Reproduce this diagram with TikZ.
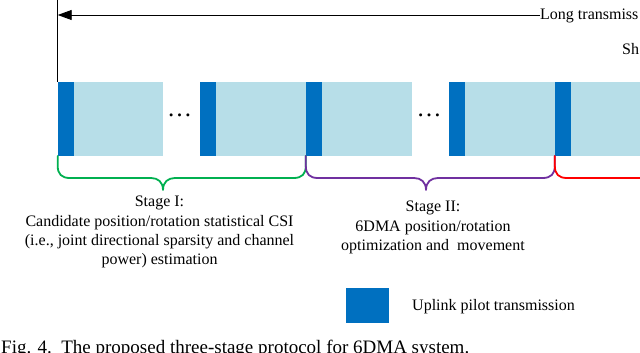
\documentclass[tikz,border=0pt]{standalone}
\usepackage{fontspec}
\setmainfont{Liberation Serif}
\usetikzlibrary{arrows.meta}
\definecolor{pilot}{HTML}{0070C0}
\definecolor{datablk}{HTML}{B7DEE8}
\definecolor{gbrace}{HTML}{00B050}
\definecolor{pbrace}{HTML}{7030A0}
\definecolor{rbrace}{HTML}{FF0000}
\begin{document}
\begin{tikzpicture}[x=1pt,y=-1pt,
  txt/.style={inner sep=0pt, anchor=base, font=\fontsize{16}{19.5}\selectfont},
  blk/.style={draw=none, inner sep=0pt, outer sep=0pt, minimum height=74pt, anchor=north west},
  pilotblk/.style={blk, fill=pilot, minimum width=16.3pt},
  datablock/.style={blk, fill=datablk},
  brace/.style={line width=1.8pt, line cap=round, line join=round},
  dotsnode/.style={inner sep=0pt, anchor=base, font=\fontsize{25}{25}\selectfont}
]
\useasboundingbox (0,0) rectangle (640,353);
\fill[white] (0,0) rectangle (640,353);

% timeline blocks
\node[pilotblk] (d1) at (57.7,82) {};
\node[datablock, minimum width=89pt] (l1) at (74,82) {};
\node[dotsnode] (dots1) at (179.5,116.5) {…};
\node[pilotblk] (d2) at (200,82) {};
\node[datablock, minimum width=89.5pt] (l2) at (216.3,82) {};
\node[pilotblk] (d3) at (305.8,82) {};
\node[datablock, minimum width=90pt] (l3) at (322,82) {};
\node[dotsnode] (dots2) at (429,116.5) {…};
\node[pilotblk] (d4) at (449,82) {};
\node[datablock, minimum width=89.5pt] (l4) at (465.3,82) {};
\node[pilotblk] (d5) at (554.8,82) {};
\node[datablock, minimum width=70pt] (l5) at (571,82) {};

% top marker and arrow
\coordinate (vtop) at (57.7,0);
\draw[line width=1pt] (vtop) -- (d1.north west);
\node[txt, anchor=base west] (longlbl) at (540,19.5) {Long transmiss};
\node[txt, anchor=base west] (shortlbl) at (622,55) {Sh};
\coordinate (ay) at (0,15);
\draw[line width=0.9pt, -{Triangle[length=14pt,width=10pt]}] (longlbl.west |- ay) -- (vtop |- ay);

% braces
\draw[brace, gbrace] (d1.south west) -- ++(0,10)
  .. controls +(0,8) and +(-8,0) .. ++(12,12) -- (151,178)
  .. controls (158,178) and (163,182) .. (163,190)
  .. controls (163,182) and (168,178) .. (175,178) -- (293.8,178)
  .. controls (301.8,178) and (305.8,174) .. (305.8,166) -- (d3.south west);
\draw[brace, pbrace] (d3.south west) -- ++(0,10)
  .. controls +(0,8) and +(-8,0) .. ++(12,12) -- (414,178)
  .. controls (421,178) and (426,182) .. (426,190)
  .. controls (426,182) and (431,178) .. (438,178) -- (542.8,178)
  .. controls (550.8,178) and (554.8,174) .. (554.8,166) -- (d5.south west);
\draw[brace, rbrace] (d5.south west) -- ++(0,10)
  .. controls +(0,8) and +(-8,0) .. ++(12,12) -- (645,178);

% stage labels
\node[txt] (s1a) at (159.5,206.7) {Stage I:};
\node[txt] (s1b) at (159.5,226) {Candidate position/rotation statistical CSI};
\node[txt] (s1c) at (159.5,245) {(i.e., joint directional sparsity and channel};
\node[txt] (s1d) at (159.5,264) {power) estimation};
\node[txt] (s2a) at (433,211.7) {Stage II:};
\node[txt] (s2b) at (433,231) {6DMA position/rotation};
\node[txt] (s2c) at (433,250) {optimization and\ \ movement};

% legend
\node[blk, fill=pilot, minimum width=43pt, minimum height=35pt] (leg) at (346,288) {};
\node[txt, anchor=base west] (legtxt) at (412,310.7) {Uplink pilot transmission};

% caption
\node[inner sep=0pt, anchor=base west, font=\fontsize{19}{22}\selectfont] (cap) at (1,353.8) {Fig. 4.\ \ The proposed three-stage protocol for 6DMA system.};
\end{tikzpicture}
\end{document}
